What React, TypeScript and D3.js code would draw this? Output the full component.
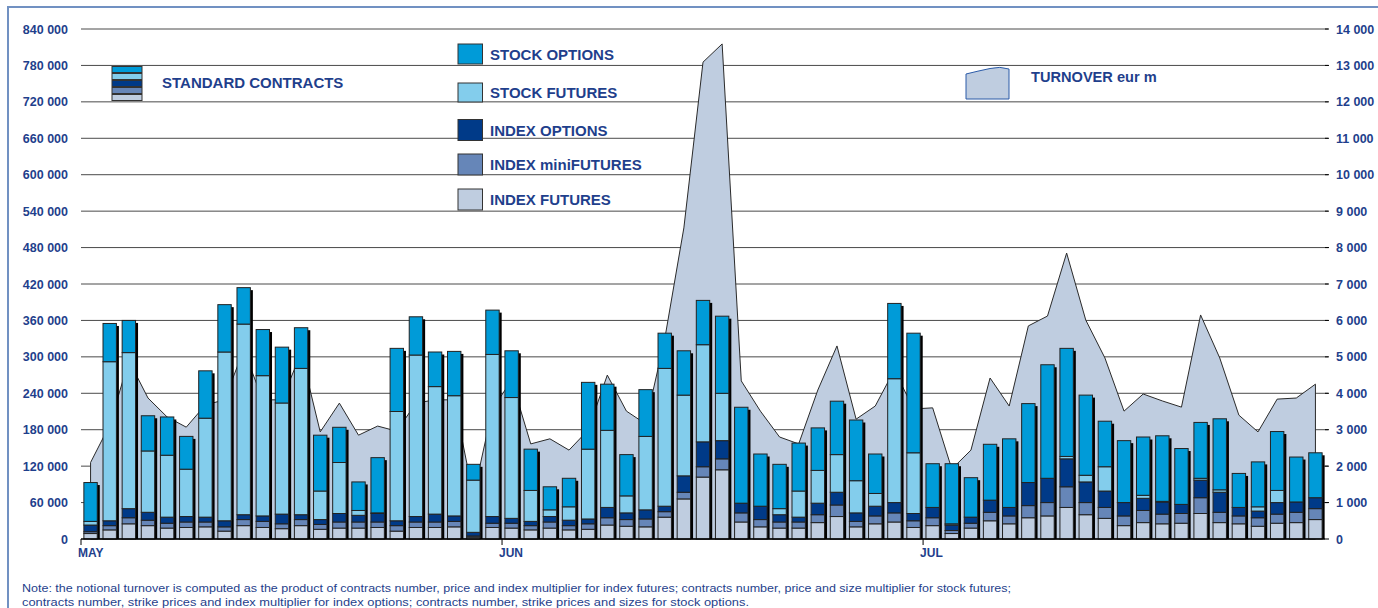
import React from "react";
import * as d3 from "d3";

// trading days May - July, one bar per day
const nDays = 65;
const monthLabels = ["MAY", "JUN", "JUL"];
const monthStart = [0, 22, 44];

// contracts per day, in thousands
const indexFutures = [9, 15, 25, 22, 18, 19, 20, 13, 22, 19, 17, 22, 16, 18, 18, 19, 13, 19, 19, 20, 3, 19,
  18, 15, 18, 15, 16, 23, 21, 20, 36, 66, 102, 114, 28, 20, 18, 18, 27, 37, 20, 25, 28, 19,
  22, 9, 18, 30, 25, 35, 38, 52, 40, 34, 22, 27, 25, 26, 42, 27, 25, 21, 26, 27, 32];
const indexMiniFutures = [3, 7, 10, 9, 8, 9, 8, 7, 10, 10, 8, 10, 8, 10, 10, 9, 9, 9, 9, 9, 2, 7,
  8, 7, 10, 7, 9, 12, 11, 13, 9, 11, 17, 18, 15, 12, 10, 10, 13, 19, 9, 13, 15, 11,
  13, 5, 8, 14, 13, 20, 22, 34, 20, 18, 16, 20, 16, 16, 26, 17, 13, 14, 15, 17, 18];
const indexOptions = [11, 8, 15, 13, 10, 9, 8, 10, 8, 9, 16, 8, 8, 14, 11, 14, 8, 9, 13, 9, 6, 11,
  8, 7, 9, 9, 8, 17, 11, 15, 9, 27, 41, 30, 16, 22, 12, 8, 19, 21, 14, 16, 17, 12,
  17, 9, 10, 20, 14, 38, 40, 46, 34, 27, 22, 20, 20, 15, 29, 33, 14, 11, 19, 17, 18];
const stockFutures = [6, 262, 257, 101, 102, 78, 163, 278, 314, 231, 183, 241, 47, 84, 8, 1, 180, 266, 210, 198, 86, 267,
  199, 51, 11, 22, 115, 127, 28, 121, 227, 133, 160, 78, 0, 0, 10, 43, 54, 62, 53, 21, 204, 100,
  0, 2, 0, 0, 0, 0, 0, 4, 11, 40, 0, 5, 1, 0, 3, 4, 0, 7, 20, 0, 0];
const stockOptions = [64, 63, 53, 58, 63, 54, 78, 78, 60, 76, 92, 67, 92, 58, 47, 91, 104, 63, 57, 73, 26, 73,
  77, 68, 38, 47, 110, 76, 68, 77, 58, 73, 73, 127, 158, 86, 73, 79, 70, 88, 100, 65, 124, 197,
  72, 99, 65, 92, 113, 130, 187, 178, 132, 75, 102, 96, 108, 92, 92, 117, 56, 74, 97, 74, 74];

// notional turnover, eur m
const turnover = [2100, 3130, 4900, 3870, 3350, 3070, 3680, 3820, 5190, 3820, 3820, 5110, 2940, 3730, 2850, 3100, 2960, 3730, 3820, 3820, 1180, 3570,
  4360, 2610, 2750, 2440, 2990, 4500, 3510, 3160, 5490, 8540, 13090, 13590, 4340, 3510, 2800, 2610, 4090, 5300, 3290, 3650, 4640, 3570,
  3600, 1920, 2440, 4420, 3650, 5850, 6120, 7850, 6010, 4970, 3510, 3980, 3790, 3620, 6150, 4970, 3400, 2940, 3840, 3870, 4250];

const leftTicks = [0, 60000, 120000, 180000, 240000, 300000, 360000, 420000, 480000, 540000, 600000, 660000, 720000, 780000, 840000];
const rightTicks = [0, 1000, 2000, 3000, 4000, 5000, 6000, 7000, 8000, 9000, 10000, 11000, 12000, 13000, 14000];

const series = [
  { key: "indexFutures", values: indexFutures, label: "INDEX FUTURES", color: "#bfcde0" },
  { key: "indexMiniFutures", values: indexMiniFutures, label: "INDEX miniFUTURES", color: "#6686b8" },
  { key: "indexOptions", values: indexOptions, label: "INDEX OPTIONS", color: "#003a88" },
  { key: "stockFutures", values: stockFutures, label: "STOCK FUTURES", color: "#83cdec" },
  { key: "stockOptions", values: stockOptions, label: "STOCK OPTIONS", color: "#009bd8" },
];

const noteLines = [
  "Note: the notional turnover is computed as the product of contracts number, price and index multiplier for index futures; contracts number, price and size multiplier for stock futures;",
  "contracts number, strike prices and index multiplier for index options; contracts number, strike prices and sizes for stock options.",
];

const navy = "#1f3f8c";
const font = "'Liberation Sans', Arial, sans-serif";

export default function App() {
  const x0 = 81, x1 = 1325, yBase = 539, yTop = 29;
  const x = d3.scaleBand<number>().domain(d3.range(nDays)).range([x0, x1]).paddingInner(0.3).paddingOuter(0.15);
  const step = x.step();
  const bw = x.bandwidth();
  const y = d3.scaleLinear().domain([0, 840000]).range([yBase, yTop]);
  const y2 = d3.scaleLinear().domain([0, 14000]).range([yBase, yTop]);
  const fmt = d3.formatLocale({ decimal: ".", thousands: " ", grouping: [3], currency: ["", ""] }).format(",");

  const rows = d3.range(nDays).map((i) => {
    const r: any = {};
    series.forEach((s) => (r[s.key] = s.values[i] * 1000));
    return r;
  });
  const stacked = d3.stack<any>().keys(series.map((s) => s.key))(rows);

  const area = d3.area<number>()
    .x((_, i) => (x(i) as number) + bw / 2)
    .y0(yBase)
    .y1((d) => y2(d));

  // legend, middle column
  const legendRows = [
    { s: series[4], y: 44, h: 20 },
    { s: series[3], y: 83, h: 19 },
    { s: series[2], y: 119.5, h: 21 },
    { s: series[1], y: 154, h: 21 },
    { s: series[0], y: 189, h: 21 },
  ];

  return (
    <svg width={1378} height={608} style={{ position: "absolute", left: 0, top: 0, background: "#fff" }}>
      <rect x={8} y={7} width={1400} height={700} fill="#fff" stroke="#7191c2" strokeWidth={2} />

      {/* gridlines */}
      {leftTicks.filter((t) => t > 0).map((t) => (
        <line key={t} x1={x0} x2={x1 + 3} y1={y(t)} y2={y(t)} stroke="#4a4a4a" strokeWidth={1} />
      ))}

      {/* turnover area */}
      <path d={area(turnover) as string} fill="#bfcde0" stroke="#2a2a2a" strokeWidth={1} />

      {/* stacked bars */}
      {d3.range(nDays).map((i) => {
        const bx = x(i) as number;
        const top = stacked[stacked.length - 1][i][1];
        return (
          <g key={i}>
            <rect x={bx + 2.5} y={y(top) + 2.5} width={bw} height={yBase - y(top) - 2.5} fill="#000" />
            {stacked.map((layer, k) => {
              const [a, b] = layer[i];
              if (b - a <= 0) return null;
              return (
                <rect key={k} x={bx} y={y(b)} width={bw} height={y(a) - y(b)}
                  fill={series[k].color} stroke="#222" strokeWidth={1} />
              );
            })}
          </g>
        );
      })}

      {/* x axis */}
      <line x1={x0} x2={x1} y1={yBase} y2={yBase} stroke="#000" strokeWidth={1.5} />
      {monthStart.map((m, j) => {
        const tx = x0 + m * step;
        return (
          <g key={j}>
            <line x1={tx} x2={tx} y1={yBase} y2={yBase + 6} stroke="#000" strokeWidth={1} />
            <text x={tx - 3} y={557} fontFamily={font} fontWeight="bold" fontSize={12} fill={navy}>{monthLabels[j]}</text>
          </g>
        );
      })}

      {/* left axis labels */}
      {leftTicks.map((t) => (
        <text key={t} x={68} y={y(t)} dy="0.36em" textAnchor="end" fontFamily={font} fontWeight="bold" fontSize={12.5} fill={navy}>
          {fmt(t)}
        </text>
      ))}
      {/* right axis */}
      {rightTicks.map((t) => (
        <g key={t}>
          <line x1={x1} x2={x1 + 4} y1={y2(t)} y2={y2(t)} stroke="#000" strokeWidth={1} />
          <text x={1336} y={y2(t)} dy="0.36em" fontFamily={font} fontWeight="bold" fontSize={12.5} fill={navy}>
            {fmt(t)}
          </text>
        </g>
      ))}

      {/* legend: standard contracts */}
      {[4, 3, 2, 1, 0].map((k, j) => (
        <rect key={k} x={112} y={66.5 + j * 7} width={30} height={6} fill={series[k].color} stroke="#333" strokeWidth={1} />
      ))}
      <text x={162} y={88} fontFamily={font} fontWeight="bold" fontSize={15} fill={navy}>STANDARD CONTRACTS</text>

      {legendRows.map((r) => (
        <g key={r.s.key}>
          <rect x={458} y={r.y} width={24.5} height={r.h} fill={r.s.color} stroke="#333" strokeWidth={1} />
          <text x={490} y={r.y + r.h / 2 + 5.5} fontFamily={font} fontWeight="bold" fontSize={15} fill={navy}>{r.s.label}</text>
        </g>
      ))}

      {/* legend: turnover */}
      <path d="M966,99 L966,74 Q978,71 990,68.5 Q1000,66 1009,69 L1009,99 Z" fill="#bfcde0" stroke="#2b5ba8" strokeWidth={1} />
      <text x={1031} y={81.5} fontFamily={font} fontWeight="bold" fontSize={14.6} fill={navy}>TURNOVER eur m</text>

      {/* note */}
      <text x={22} y={592} fontFamily={font} fontSize={11} fill={navy} textLength={989} lengthAdjust="spacingAndGlyphs">{noteLines[0]}</text>
      <text x={22} y={606} fontFamily={font} fontSize={11} fill={navy} textLength={727} lengthAdjust="spacingAndGlyphs">{noteLines[1]}</text>
    </svg>
  );
}
